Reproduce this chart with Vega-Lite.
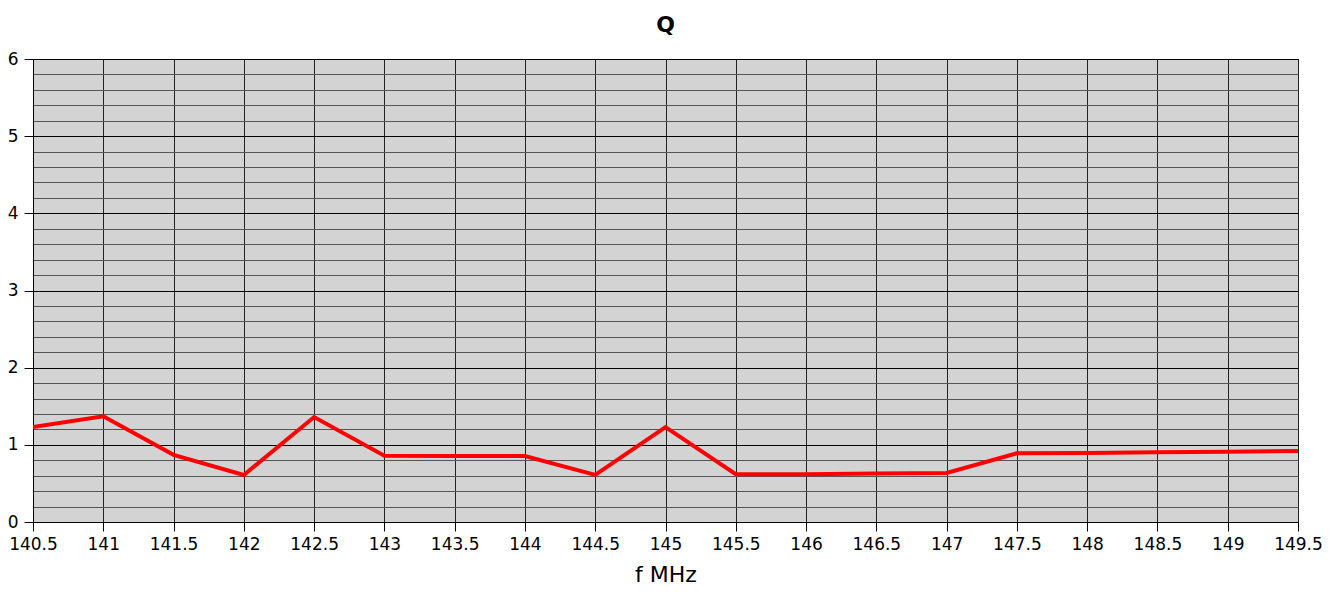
{
  "$schema": "https://vega.github.io/schema/vega-lite/v6.json",
  "autosize": "none",
  "width": 1265,
  "height": 463,
  "padding": {"left": 33, "top": 59, "right": 33, "bottom": 79},
  "background": "white",
  "title": {"text": "Q", "font": "DejaVu Sans", "fontSize": 22, "fontWeight": "bold", "color": "black", "anchor": "middle", "offset": 13},
  "config": {
    "view": {"fill": "#d3d3d3", "stroke": "black", "strokeWidth": 1},
    "axis": {"labelFont": "DejaVu Sans", "titleFont": "DejaVu Sans", "labelColor": "black", "titleColor": "black"}
  },
  "data": {"values": [
    {"f": 140.5, "q": 1.23},
    {"f": 141.0, "q": 1.37},
    {"f": 141.5, "q": 0.87},
    {"f": 142.0, "q": 0.61},
    {"f": 142.5, "q": 1.36},
    {"f": 143.0, "q": 0.86},
    {"f": 143.5, "q": 0.855},
    {"f": 144.0, "q": 0.855},
    {"f": 144.5, "q": 0.61},
    {"f": 145.0, "q": 1.23},
    {"f": 145.5, "q": 0.62},
    {"f": 146.0, "q": 0.62},
    {"f": 146.5, "q": 0.63},
    {"f": 147.0, "q": 0.635},
    {"f": 147.5, "q": 0.89},
    {"f": 148.0, "q": 0.895},
    {"f": 148.5, "q": 0.905},
    {"f": 149.0, "q": 0.91},
    {"f": 149.5, "q": 0.92}
  ]},
  "mark": {"type": "line", "color": "#ff0000", "strokeWidth": 4, "clip": true},
  "encoding": {
    "x": {
      "field": "f", "type": "quantitative",
      "scale": {"domain": [140.5, 149.5], "nice": false, "zero": false},
      "axis": {
        "title": "f MHz", "titleFontSize": 22, "titleFontWeight": "normal", "titlePadding": 12,
        "format": "~g",
        "values": [140.5, 141, 141.5, 142, 142.5, 143, 143.5, 144, 144.5, 145, 145.5, 146, 146.5, 147, 147.5, 148, 148.5, 149, 149.5],
        "labelFontSize": 17, "labelPadding": 5, "labelFlush": false, "labelOverlap": false,
        "tickSize": 9, "tickColor": "black", "domainColor": "black",
        "grid": true, "gridColor": "#222222", "gridWidth": 1, "gridOpacity": 1
      }
    },
    "y": {
      "field": "q", "type": "quantitative",
      "scale": {"domain": [0, 6], "nice": false},
      "axis": {
        "title": null,
        "format": "~g",
        "values": [0, 0.2, 0.4, 0.6, 0.8, 1, 1.2, 1.4, 1.6, 1.8, 2, 2.2, 2.4, 2.6, 2.8, 3, 3.2, 3.4, 3.6, 3.8, 4, 4.2, 4.4, 4.6, 4.8, 5, 5.2, 5.4, 5.6, 5.8, 6],
        "labelExpr": "abs(datum.value - round(datum.value)) < 0.01 ? datum.label : ''",
        "labelFontSize": 17, "labelPadding": 6, "labelFlush": false, "labelOverlap": false,
        "tickSize": 9, "tickColor": "black",
        "tickOpacity": {"condition": {"test": "abs(datum.value - round(datum.value)) < 0.01", "value": 1}, "value": 0},
        "domainColor": "black",
        "grid": true, "gridOpacity": 1, "gridWidth": 1,
        "gridColor": {"condition": {"test": "abs(datum.value - round(datum.value)) < 0.01", "value": "#000000"}, "value": "#555555"}
      }
    }
  }
}
